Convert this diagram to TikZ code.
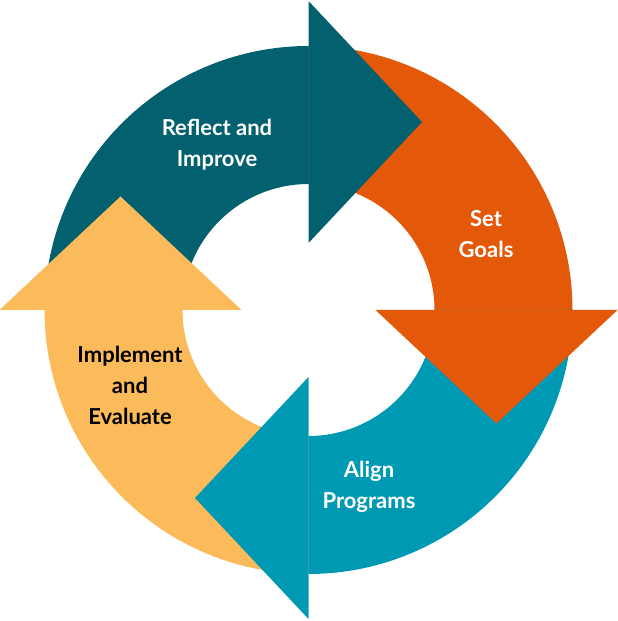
\documentclass[tikz,border=0pt]{standalone}
\usepackage{fontspec}
\setmainfont{Lato}
\usetikzlibrary{calc}
\definecolor{cteal}{HTML}{02606F}
\definecolor{corange}{HTML}{E4580A}
\definecolor{cblue}{HTML}{0099B4}
\definecolor{cyellow}{HTML}{FCBB5A}
% band: start angle, end angle (extended 2 deg under the own head), colour
\newcommand\cycband[3]{%
  \fill[#3] ($(c)+(#1:264)$) arc[start angle=#1,end angle=#2-2,radius=264]
    -- ($(c)+(#2-2:126)$) arc[start angle=#2-2,end angle=#1,radius=126] -- cycle;}
\newcommand\cychead[2]{%
  \fill[#2] ($(c)+(#1:309)$) -- ($(c)+(#1:188)+(#1-90:113.5)$) -- ($(c)+(#1:67)$) -- cycle;}
\tikzset{lbl/.style={align=center,font=\bfseries\fontsize{22}{31}\selectfont,text=white}}
\begin{document}
\begin{tikzpicture}[x=1pt,y=1pt]
\useasboundingbox (0,0) rectangle (618,621);
\coordinate (c) at (308.5,311);
\cycband{180}{90}{cteal}
\cycband{90}{0}{corange}
\cycband{0}{-90}{cblue}
\cycband{270}{180}{cyellow}
\cychead{90}{cteal}
\cychead{0}{corange}
\cychead{-90}{cblue}
\cychead{180}{cyellow}
\node[lbl] (reflect) at (217,476) {Reflect and\\Improve};
\node[lbl] (goals) at (486,387) {Set\\Goals};
\node[lbl] (align) at (369,134) {Align\\Programs};
\node[lbl,text=black] (impl) at (130,236) {Implement\\and\\Evaluate};
\end{tikzpicture}
\end{document}
